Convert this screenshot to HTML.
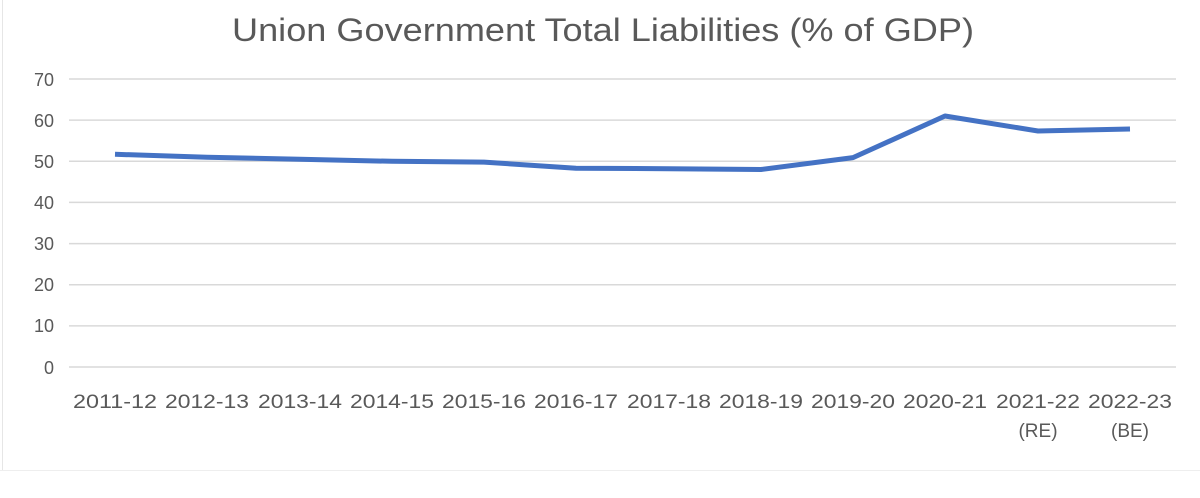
<!DOCTYPE html>
<html><head><meta charset="utf-8"><style>
body{margin:0;background:#fff}
text{font-family:"Liberation Sans",sans-serif;fill:#595959}
</style></head><body>
<svg width="1200" height="493" viewBox="0 0 1200 493" xmlns="http://www.w3.org/2000/svg">
<rect width="1200" height="493" fill="#fff"/>
<line x1="2.5" y1="0" x2="2.5" y2="470" stroke="#e6e6e6" stroke-width="1"/>
<line x1="0" y1="470.5" x2="1200" y2="470.5" stroke="#eeeeee" stroke-width="1"/>
<text x="603" y="41" font-size="32" text-anchor="middle" textLength="742" lengthAdjust="spacingAndGlyphs">Union Government Total Liabilities (% of GDP)</text>
<g stroke="#d9d9d9" stroke-width="1.5">
<line x1="69" x2="1176" y1="79" y2="79"/>
<line x1="69" x2="1176" y1="120.1" y2="120.1"/>
<line x1="69" x2="1176" y1="161.3" y2="161.3"/>
<line x1="69" x2="1176" y1="202.4" y2="202.4"/>
<line x1="69" x2="1176" y1="243.6" y2="243.6"/>
<line x1="69" x2="1176" y1="284.7" y2="284.7"/>
<line x1="69" x2="1176" y1="325.9" y2="325.9"/>
<line x1="69" x2="1176" y1="367" y2="367"/>
</g>
<g font-size="18" text-anchor="end">
<text x="54" y="86">70</text><text x="54" y="127">60</text><text x="54" y="168">50</text><text x="54" y="209">40</text>
<text x="54" y="250">30</text><text x="54" y="291">20</text><text x="54" y="332">10</text><text x="54" y="374">0</text>
</g>
<g font-size="19" text-anchor="middle">
<text x="115" y="408" textLength="84" lengthAdjust="spacingAndGlyphs">2011-12</text>
<text x="207" y="408" textLength="84" lengthAdjust="spacingAndGlyphs">2012-13</text>
<text x="300" y="408" textLength="84" lengthAdjust="spacingAndGlyphs">2013-14</text>
<text x="392" y="408" textLength="84" lengthAdjust="spacingAndGlyphs">2014-15</text>
<text x="484" y="408" textLength="84" lengthAdjust="spacingAndGlyphs">2015-16</text>
<text x="576" y="408" textLength="84" lengthAdjust="spacingAndGlyphs">2016-17</text>
<text x="669" y="408" textLength="84" lengthAdjust="spacingAndGlyphs">2017-18</text>
<text x="761" y="408" textLength="84" lengthAdjust="spacingAndGlyphs">2018-19</text>
<text x="853" y="408" textLength="84" lengthAdjust="spacingAndGlyphs">2019-20</text>
<text x="945" y="408" textLength="84" lengthAdjust="spacingAndGlyphs">2020-21</text>
<text x="1038" y="408" textLength="84" lengthAdjust="spacingAndGlyphs">2021-22</text>
<text x="1130" y="408" textLength="84" lengthAdjust="spacingAndGlyphs">2022-23</text>
<text x="1038" y="437">(RE)</text><text x="1130" y="437">(BE)</text>
</g>
<polyline fill="none" stroke="#4472c4" stroke-width="5" stroke-linejoin="round"
points="115,154.3 207,157.2 300,159.2 392,161.3 484,162.1 576,168.3 669,168.7 761,169.5 853,157.6 945,116 1038,131 1130,129"/>
</svg>
</body></html>
